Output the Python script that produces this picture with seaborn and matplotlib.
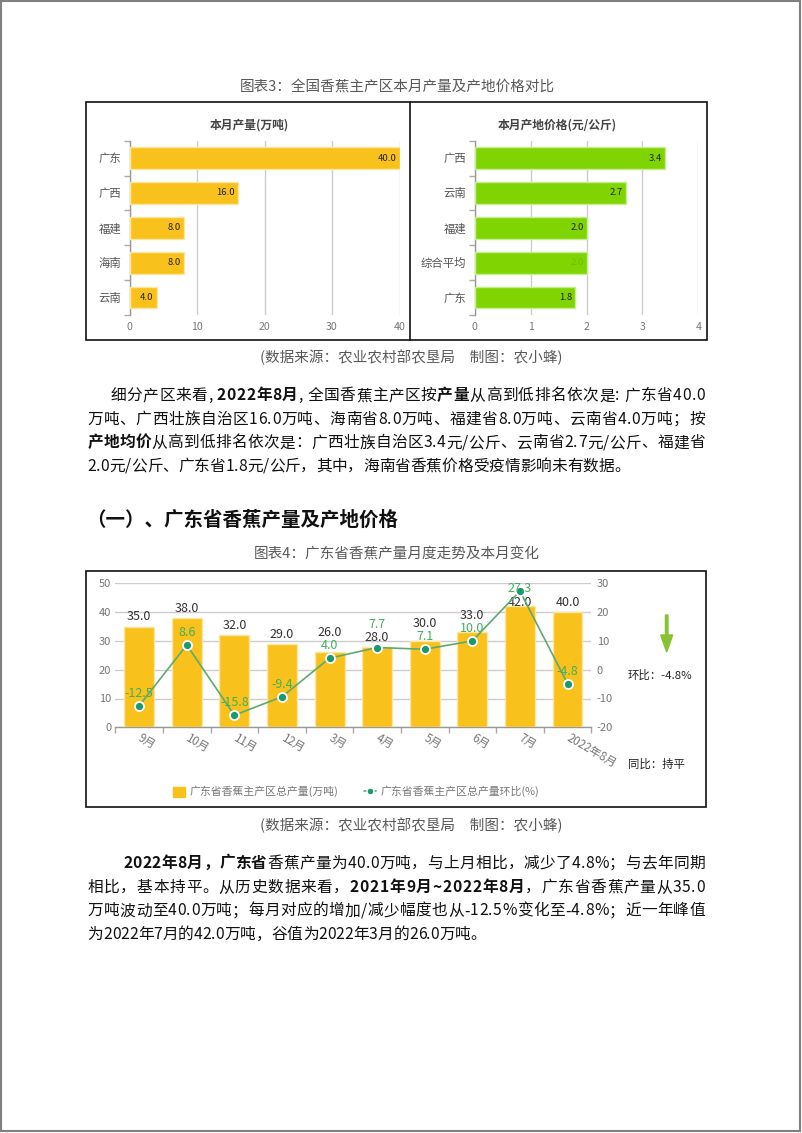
import numpy as np
import pandas as pd
import matplotlib
matplotlib.use("Agg")
import matplotlib.pyplot as plt
import seaborn as sns
from matplotlib.transforms import Affine2D
from matplotlib.patches import Rectangle, Patch, FancyArrow
from matplotlib.lines import Line2D
from matplotlib import font_manager

# ---------------- data ----------------
prod_regions = ['广东', '广西', '福建', '海南', '云南']
prod_values = [40.0, 16.0, 8.0, 8.0, 4.0]
price_regions = ['广西', '云南', '福建', '综合平均', '广东']
price_values = [3.4, 2.7, 2.0, 2.0, 1.8]
months = ['9月', '10月', '11月', '12月', '3月', '4月', '5月', '6月', '7月', '2022年8月']
gd_output = [35.0, 38.0, 32.0, 29.0, 26.0, 28.0, 30.0, 33.0, 42.0, 40.0]
gd_mom = [-12.5, 8.6, -15.8, -9.4, 4.0, 7.7, 7.1, 10.0, 27.3, -4.8]
prod_ticks = [0, 10, 20, 30, 40]
price_ticks = [0, 1, 2, 3, 4]
out_ticks = [0, 10, 20, 30, 40, 50]
mom_ticks = [-20, -10, 0, 10, 20, 30]
legend_labels = ['广东省香蕉主产区总产量(万吨)', '广东省香蕉主产区总产量环比(%)']

# ---------------- style ----------------
sns.set_theme(style='white')
FAM = ['Noto Sans CJK SC', 'DejaVu Sans']
plt.rcParams['font.family'] = FAM
plt.rcParams['axes.unicode_minus'] = False

YEL = '#F9C11C'
YEL_EDGE = '#FCE6A0'
GRN = '#80D402'
GRN_EDGE = '#C6F08C'
LINE_C = '#5DAA6E'
MARK_C = '#189A6F'
LAB_G = '#42AE5E'
GREY_T = '#595959'

W, H = 802, 1133
fig = plt.figure(figsize=(W / 100, H / 100), dpi=100)
PX = Affine2D().scale(1 / W, -1 / H).translate(0, 1) + fig.transFigure


def add_ax(x0, y0, x1, y1):
    return fig.add_axes([x0 / W, 1 - y1 / H, (x1 - x0) / W, (y1 - y0) / H])


def ptext(x, y, s, **kw):
    kw.setdefault('ha', 'center')
    kw.setdefault('va', 'center')
    return fig.text(x, y, s, transform=PX, **kw)


# page border
fig.patches.append(Rectangle((1, 1), 799, 1130, fill=False, edgecolor='#808080',
                             lw=1.5, transform=PX, figure=fig))

# ---------------- chart 3 ----------------
ptext(397, 87, '图表3：全国香蕉主产区本月产量及产地价格对比', fontsize=10.5, color=GREY_T)
fig.patches.append(Rectangle((86, 102), 621, 238, fill=False, edgecolor='#111111',
                             lw=1.2, transform=PX, figure=fig))
fig.lines.append(Line2D([410, 410], [102, 340], color='#111111', lw=1.2, transform=PX, figure=fig))


def hbar(ax, cats, vals, color, edge, ticks, lab_colors):
    df = pd.DataFrame({'cat': cats, 'val': vals})
    sns.barplot(data=df, x='val', y='cat', orient='h', color=color, saturation=1,
                width=0.62, edgecolor=edge, linewidth=1, ax=ax, zorder=3)
    ax.set_xlim(ticks[0], ticks[-1])
    ax.set_ylim(len(cats) - 0.5, -0.5)
    ax.set_xticks(ticks)
    ax.set_axisbelow(True)
    ax.grid(axis='x', color='#cccccc', lw=1)
    ax.grid(axis='y', visible=False)
    for s in ['top', 'right', 'bottom']:
        ax.spines[s].set_visible(False)
    ax.spines['left'].set_color('#999999')
    ax.spines['left'].set_linewidth(1)
    ax.set_xlabel('')
    ax.set_ylabel('')
    ax.tick_params(axis='x', length=0, pad=5, labelsize=7.6, labelcolor='#777777')
    ax.tick_params(axis='y', which='major', length=0, pad=6, labelsize=8.2, labelcolor='#555555')
    ax.set_yticks(np.arange(-0.5, len(cats)), minor=True)
    ax.tick_params(axis='y', which='minor', left=True, length=4, width=1, color='#aaaaaa')
    for i, v in enumerate(vals):
        ax.annotate(f'{v:.1f}', (v, i), xytext=(-3, 0), textcoords='offset pixels',
                    ha='right', va='center', fontsize=6.8, color=lab_colors[i], zorder=5)


axA = add_ax(129.5, 140.7, 399.5, 315)
hbar(axA, prod_regions, prod_values, YEL, YEL_EDGE, prod_ticks, ['#222222'] * 5)
ptext(249, 125, '本月产量(万吨)', fontsize=8.5, color='#444444', fontweight='bold')

axB = add_ax(474.7, 140.7, 698.3, 315)
hbar(axB, price_regions, price_values, GRN, GRN_EDGE, price_ticks,
     ['#222222', '#222222', '#222222', '#6CC000', '#222222'])
ptext(557, 125, '本月产地价格(元/公斤)', fontsize=8.5, color='#444444', fontweight='bold')

ptext(411, 357, '(数据来源：农业农村部农垦局　制图：农小蜂)', fontsize=10.5, color=GREY_T)

# ---------------- body text helpers ----------------
_font_cache = {}


def advance(c, size, bold):
    key = bold
    if key not in _font_cache:
        fp = font_manager.FontProperties(family='Noto Sans CJK SC',
                                         weight='bold' if bold else 'normal')
        _font_cache[key] = font_manager.findfont(fp)
    f = font_manager.get_font(_font_cache[key])
    f.set_size(size, 100)
    g = f.load_char(ord(c))
    return g.linearHoriAdvance / 65536.0


BODY = 11.3


def draw_line(runs, x0, yc, x1=None, size=BODY, color='#111111'):
    chars = [(c, b) for t, b in runs for c in t]
    adv = [advance(c, size, b) for c, b in chars]
    total = sum(adv)
    extra = (x1 - x0 - total) / (len(chars) - 1) if x1 is not None else 0.0
    em = size * 100 / 72
    yb = yc + 0.34 * em
    x = x0
    for (c, b), a in zip(chars, adv):
        fig.text(x, yb, c, transform=PX, fontsize=size, ha='left', va='baseline',
                 fontweight='bold' if b else 'normal', color=color,
                 family='Noto Sans CJK SC')
        x += a + extra


R = 705
draw_line([('细分产区来看, ', 0), ('2022年8月', 1), (', 全国香蕉主产区按', 0), ('产量', 1),
           ('从高到低排名依次是: 广东省40.0', 0)], 110.5, 395, R)
draw_line([('万吨、广西壮族自治区16.0万吨、海南省8.0万吨、福建省8.0万吨、云南省4.0万吨；按', 0)],
          87.4, 418.5, R)
draw_line([('产地均价', 1), ('从高到低排名依次是：广西壮族自治区3.4元/公斤、云南省2.7元/公斤、福建省', 0)],
          87.4, 442, R)
draw_line([('2.0元/公斤、广东省1.8元/公斤，其中，海南省香蕉价格受疫情影响未有数据。', 0)],
          87.4, 465.5)

ptext(86, 520, '（一）、广东省香蕉产量及产地价格', fontsize=14, fontweight='bold',
      color='#111111', ha='left')

# ---------------- chart 4 ----------------
ptext(397, 555, '图表4：广东省香蕉产量月度走势及本月变化', fontsize=10.5, color=GREY_T)
fig.patches.append(Rectangle((86, 571), 620, 236, fill=False, edgecolor='#111111',
                             lw=1.2, transform=PX, figure=fig))

ax2 = add_ax(115.4, 583.3, 591.3, 727.3)
df2 = pd.DataFrame({'month': months, 'output': gd_output, 'mom': gd_mom})
sns.barplot(data=df2, x='month', y='output', color=YEL, saturation=1, width=0.63,
            edgecolor=YEL_EDGE, linewidth=1, ax=ax2, zorder=3)
ax2.set_ylim(out_ticks[0], out_ticks[-1])
ax2.set_yticks(out_ticks)
ax2.set_xlim(-0.5, len(months) - 0.5)
ax2.set_axisbelow(True)
ax2.grid(axis='y', color='#cccccc', lw=1)
ax2.grid(axis='x', visible=False)
for s in ['top', 'right', 'left']:
    ax2.spines[s].set_visible(False)
ax2.spines['bottom'].set_color('#999999')
ax2.spines['bottom'].set_linewidth(1)
ax2.set_xlabel('')
ax2.set_ylabel('')
ax2.tick_params(axis='y', length=0, pad=3, labelsize=8, labelcolor='#777777')
ax2.set_xticks(range(len(months)))
ax2.set_xticklabels(months, rotation=-30, ha='left', va='center', rotation_mode='anchor')
ax2.tick_params(axis='x', which='major', length=0, pad=7, labelsize=8.3, labelcolor='#777777')
ax2.set_xticks(np.arange(-0.5, len(months)), minor=True)
ax2.tick_params(axis='x', which='minor', bottom=True, length=4, width=1, color='#aaaaaa')

ax3 = ax2.twinx()
sns.lineplot(x=np.arange(len(months)), y=gd_mom, ax=ax3, color=LINE_C, lw=1.2,
             marker='o', markersize=6.5, markerfacecolor=MARK_C, markeredgecolor='white',
             markeredgewidth=1.3, zorder=5)
ax3.set_ylim(mom_ticks[0], mom_ticks[-1])
ax3.set_yticks(mom_ticks)
ax3.set_xlim(-0.5, len(months) - 0.5)
ax3.grid(False)
for s in ax3.spines.values():
    s.set_visible(False)
ax3.set_ylabel('')
ax3.tick_params(axis='y', length=0, pad=4, labelsize=8, labelcolor='#777777')

# label layout: default offsets, keep inside top, then separate overlapping pairs
LAB_TOP = 589.0   # highest allowed label centre (px from top)
SEP = 13.0        # min vertical gap between the two labels of one month
BAR_OFF, LINE_OFF = 9.5, 12.5
for i in range(len(months)):
    pb = H - ax2.transData.transform((i, gd_output[i]))[1]
    pl = H - ax3.transData.transform((i, gd_mom[i]))[1]
    yb, yl = pb - BAR_OFF, pl - LINE_OFF
    clamped = yl < LAB_TOP
    yl = max(yl, LAB_TOP)
    if abs(yb - yl) < SEP:
        if clamped:
            yb = yl + SEP
        elif yb < yl:
            yb = yl - SEP
        else:
            yl = yb - SEP
    ax2.annotate(f'{gd_output[i]:.1f}', (i, gd_output[i]), xytext=(0, pb - yb),
                 textcoords='offset pixels', ha='center', va='center', fontsize=9,
                 color='#333333', zorder=6)
    ax3.annotate(f'{gd_mom[i]:.1f}', (i, gd_mom[i]), xytext=(0, pl - yl),
                 textcoords='offset pixels', ha='center', va='center', fontsize=9,
                 color=LAB_G, zorder=7)

handles = [Patch(facecolor=YEL, edgecolor=YEL),
           Line2D([0], [0], color=LINE_C, lw=1.2, marker='o', markersize=5,
                  markerfacecolor=MARK_C, markeredgecolor='white')]
fig.legend(handles, legend_labels, loc='center', bbox_to_anchor=(356 / W, 1 - 791.7 / H),
           ncol=2, frameon=False, fontsize=7.8, labelcolor='#777777', handlelength=1.1,
           handleheight=1.0, handletextpad=0.4, columnspacing=2.4)

fig.patches.append(FancyArrow(666.7, 615, 0, 37, width=2.5, head_width=12, head_length=17,
                              length_includes_head=True, color='#86C232', transform=PX,
                              figure=fig))
ptext(628, 675, '环比：-4.8%', fontsize=8.2, color='#222222', ha='left')
ptext(628, 764, '同比：持平', fontsize=8.2, color='#222222', ha='left')

ptext(411, 825, '(数据来源：农业农村部农垦局　制图：农小蜂)', fontsize=10.5, color=GREY_T)

# ---------------- paragraph 2 ----------------
draw_line([('2022年8月，广东省', 1), ('香蕉产量为40.0万吨，与上月相比，减少了4.8%；与去年同期', 0)],
          123, 862.5, R)
draw_line([('相比，基本持平。从历史数据来看，', 0), ('2021年9月~2022年8月', 1),
           ('，广东省香蕉产量从35.0', 0)], 87.4, 886.5, R)
draw_line([('万吨波动至40.0万吨；每月对应的增加/减少幅度也从-12.5%变化至-4.8%；近一年峰值', 0)],
          87.4, 910, R)
draw_line([('为2022年7月的42.0万吨，谷值为2022年3月的26.0万吨。', 0)], 87.4, 934)

fig.savefig('out.png', dpi=100)
